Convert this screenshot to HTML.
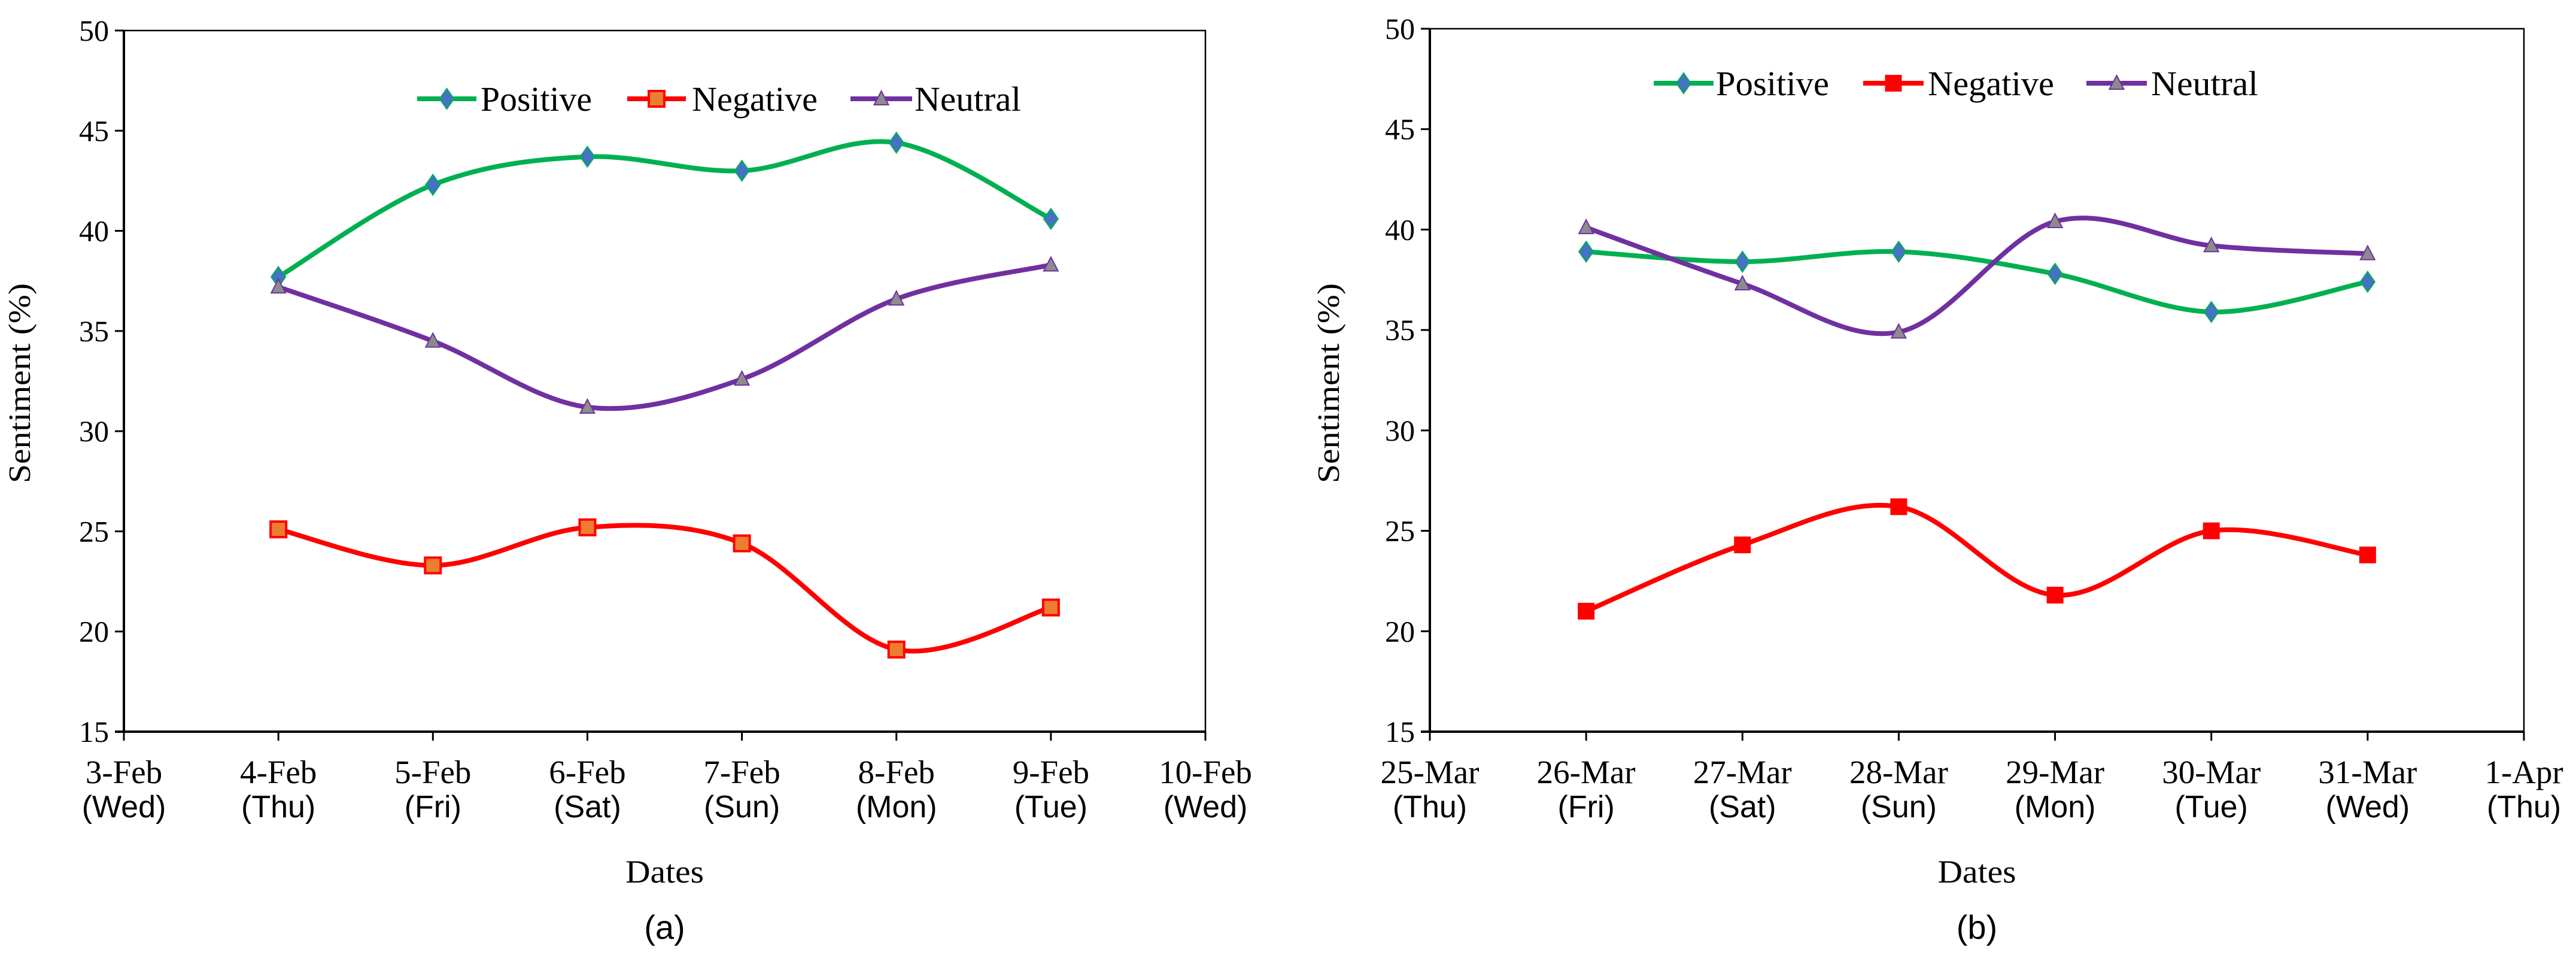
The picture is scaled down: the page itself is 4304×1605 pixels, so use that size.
<!DOCTYPE html>
<html><head><meta charset="utf-8">
<style>
html,body{margin:0;padding:0;background:#fff;}
svg{display:block;}
</style></head>
<body>
<svg id="chart" width="4304" height="1605" viewBox="0 0 4304 1605" xmlns="http://www.w3.org/2000/svg"></svg>
<script>
const categoriesA = ["3-Feb","4-Feb","5-Feb","6-Feb","7-Feb","8-Feb","9-Feb","10-Feb"];
const daysA = ["(Wed)","(Thu)","(Fri)","(Sat)","(Sun)","(Mon)","(Tue)","(Wed)"];
const positiveA = [null,37.7,42.3,43.7,43.0,44.4,40.6,null];
const negativeA = [null,25.1,23.3,25.2,24.4,19.1,21.2,null];
const neutralA = [null,37.2,34.5,31.2,32.6,36.6,38.3,null];

const categoriesB = ["25-Mar","26-Mar","27-Mar","28-Mar","29-Mar","30-Mar","31-Mar","1-Apr"];
const daysB = ["(Thu)","(Fri)","(Sat)","(Sun)","(Mon)","(Tue)","(Wed)","(Thu)"];
const positiveB = [null,38.9,38.4,38.9,37.8,35.9,37.4,null];
const negativeB = [null,21.0,24.3,26.2,21.8,25.0,23.8,null];
const neutralB = [null,40.1,37.3,34.9,40.4,39.2,38.8,null];

const yTicks = [15,20,25,30,35,40,45,50];
const seriesNames = ["Positive","Negative","Neutral"];

const NS = "http://www.w3.org/2000/svg";
const svg = document.getElementById("chart");
function mk(tag, attrs, parent){
  const e = document.createElementNS(NS, tag);
  for (const k in attrs) e.setAttribute(k, attrs[k]);
  (parent||svg).appendChild(e);
  return e;
}
function smoothPath(pts){
  let d = "M"+pts[0][0]+","+pts[0][1];
  for (let i=0;i<pts.length-1;i++){
    const p0 = pts[i-1]||pts[i], p1=pts[i], p2=pts[i+1], p3=pts[i+2]||pts[i+1];
    const t=6;
    const c1x=p1[0]+(p2[0]-p0[0])/t, c1y=p1[1]+(p2[1]-p0[1])/t;
    const c2x=p2[0]-(p3[0]-p1[0])/t, c2y=p2[1]-(p3[1]-p1[1])/t;
    d+=" C"+c1x+","+c1y+" "+c2x+","+c2y+" "+p2[0]+","+p2[1];
  }
  return d;
}
function marker(g, kind, x, y, negStyle){
  let m;
  if (kind===0){
    m = mk("polygon",{points:(x)+","+(y-17)+" "+(x+12)+","+y+" "+(x)+","+(y+17)+" "+(x-12)+","+y, fill:"#4472c4", stroke:"#00b050","stroke-width":2}, g);
  } else if (kind===1){
    if (negStyle==="a") m = mk("rect",{x:x-13,y:y-13,width:26,height:26,fill:"#ed7d31",stroke:"#ff0000","stroke-width":4}, g);
    else m = mk("rect",{x:x-14,y:y-14,width:28,height:28,fill:"#ff0000"}, g);
  } else {
    m = mk("polygon",{points:x+","+(y-13)+" "+(x+12)+","+(y+10)+" "+(x-12)+","+(y+10), fill:"#8c8c8c", stroke:"#7030a0","stroke-width":2}, g);
  }
  return m;
}
const colors = ["#00b050","#ff0000","#7030a0"];

function panel(cfg){
  const {x0,x1,y0,y1,cats,days,data,legend,label,negStyle,id} = cfg;
  const g = mk("g",{});
  
  
  const xs = i => x0 + (x1-x0)*i/(cats.length-1);
  const ys = v => y1 - (y1-y0)*(v-15)/(50-15);
  const fr = mk("rect",{x:x0,y:y0,width:x1-x0,height:y1-y0,fill:"none",stroke:"#000","stroke-width":2.5},g);
  
  
  const ax = mk("line",{x1:x0,y1:y0,x2:x0,y2:y1,stroke:"#000","stroke-width":4},g);
  
  
  const bx = mk("line",{x1:x0-15,y1:y1,x2:x1,y2:y1,stroke:"#000","stroke-width":4},g);
  
  
  yTicks.forEach(v=>{
    mk("line",{x1:x0-15,y1:ys(v),x2:x0,y2:ys(v),stroke:"#000","stroke-width":3},g);
    const t = mk("text",{x:x0-25,y:ys(v)+17,"text-anchor":"end","font-family":"Liberation Serif, serif","font-size":50,textLength:50,lengthAdjust:"spacingAndGlyphs"},g);
    t.textContent = v;
    
    
  });
  cats.forEach((c,i)=>{
    mk("line",{x1:xs(i),y1:y1,x2:xs(i),y2:y1+15,stroke:"#000","stroke-width":3},g);
    const t = mk("text",{x:xs(i),y:y1+86,"text-anchor":"middle","font-family":"Liberation Serif, serif","font-size":55},g);
    t.textContent = c;
    
    
    const d = mk("text",{x:xs(i),y:y1+143,"text-anchor":"middle","font-family":"Liberation Sans, sans-serif","font-size":52},g);
    d.textContent = days[i];
    
    
  });
  const yt = mk("text",{x:0,y:0,transform:"translate("+(cfg.ytx)+",640) rotate(-90)","text-anchor":"middle","font-family":"Liberation Serif, serif","font-size":52,textLength:334,lengthAdjust:"spacingAndGlyphs"},g);
  yt.textContent = "Sentiment (%)";
  
  
  const xt = mk("text",{x:(x0+x1)/2,y:1474,"text-anchor":"middle","font-family":"Liberation Serif, serif","font-size":54,textLength:131,lengthAdjust:"spacingAndGlyphs"},g);
  xt.textContent = "Dates";
  
  
  const lb = mk("text",{x:(x0+x1)/2,y:1568,"text-anchor":"middle","font-family":"Liberation Sans, sans-serif","font-size":56},g);
  lb.textContent = label;
  
  
  data.forEach((arr,k)=>{
    const sg = mk("g",{},g);
    
    
    const pts = [];
    arr.forEach((v,i)=>{ if (v!==null) pts.push([xs(i),ys(v)]); });
    const p = mk("path",{d:smoothPath(pts),fill:"none",stroke:colors[k],"stroke-width":8,"stroke-linecap":"round","stroke-linejoin":"round"},sg);
    
    
    pts.forEach(pt=>{
      const m = marker(sg,k,pt[0],pt[1],negStyle);
      
      
    });
  });
  const lg = mk("g",{},g);
  
  
  legend.entries.forEach((e,k)=>{
    const eg = mk("g",{},lg);
    
    
    mk("line",{x1:e[0],y1:legend.y,x2:e[1],y2:legend.y,stroke:colors[k],"stroke-width":8},eg);
    marker(eg,k,(e[0]+e[1])/2,legend.y,negStyle);
    const t = mk("text",{x:e[2],y:legend.y+20,"font-family":"Liberation Serif, serif","font-size":58,textLength:e[3],lengthAdjust:"spacingAndGlyphs"},eg);
    t.textContent = seriesNames[k];
  });
}
panel({id:"a",x0:207,x1:2014,y0:51,y1:1222,cats:categoriesA,days:daysA,data:[positiveA,negativeA,neutralA],
  legend:{y:165,entries:[[697,796,803,186],[1048,1146,1156,210],[1421,1524,1528,178]]},label:"(a)",negStyle:"a",ytx:50});
panel({id:"b",x0:2389,x1:4217,y0:48,y1:1222,cats:categoriesB,days:daysB,data:[positiveB,negativeB,neutralB],
  legend:{y:139,entries:[[2763,2863,2867,189],[3113,3214,3221,211],[3486,3587,3594,179]]},label:"(b)",negStyle:"b",ytx:2237});
</script>
</body></html>
